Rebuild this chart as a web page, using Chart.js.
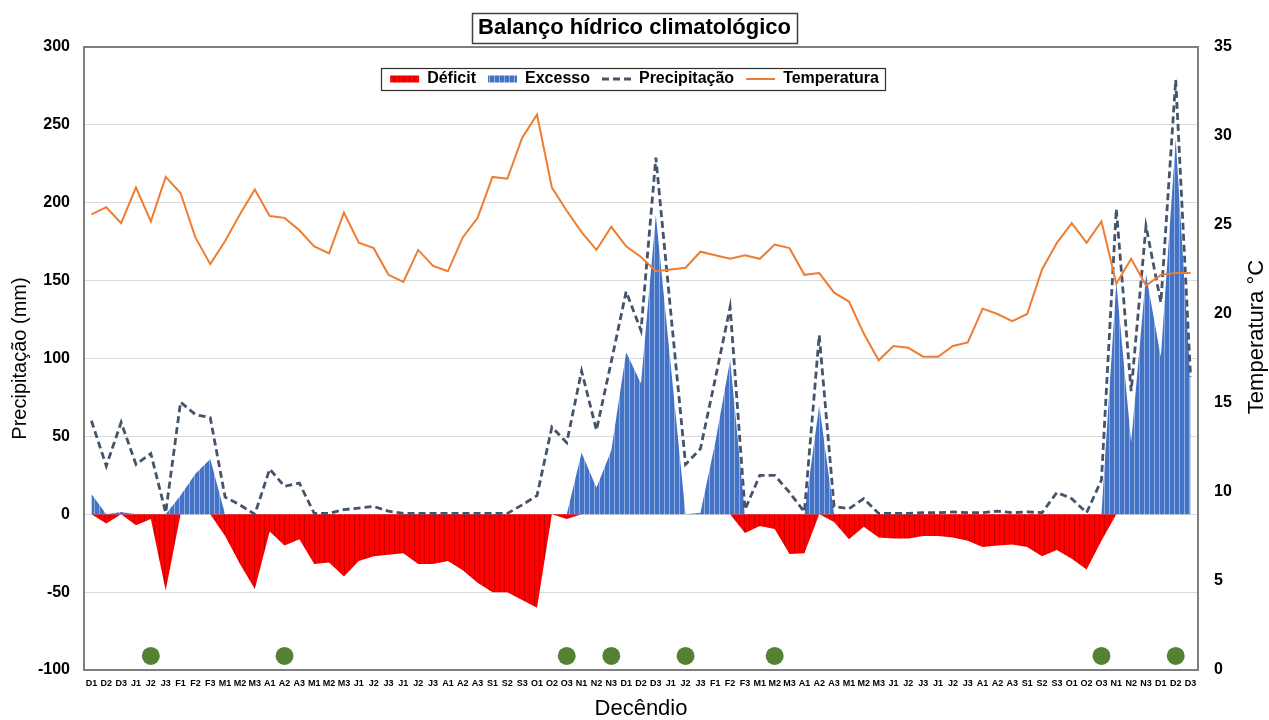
<!DOCTYPE html>
<html lang="pt-BR">
<head>
<meta charset="utf-8">
<title>Balanço hídrico climatológico</title>
<script src="https://cdn.jsdelivr.net/npm/chart.js@4.4.1/dist/chart.umd.min.js"></script>
<style>
  html, body { margin: 0; padding: 0; background: #fff; }
  #wrap { width: 1269px; height: 720px; }
</style>
</head>
<body>
<div id="wrap"><canvas id="chart"></canvas></div>
<script>
// --- dados ---
const decendios = [
  'D1','D2','D3',
  'J1','J2','J3','F1','F2','F3','M1','M2','M3','A1','A2','A3','M1','M2','M3',
  'J1','J2','J3','J1','J2','J3','A1','A2','A3','S1','S2','S3','O1','O2','O3','N1','N2','N3',
  'D1','D2','D3',
  'J1','J2','J3','F1','F2','F3','M1','M2','M3','A1','A2','A3','M1','M2','M3',
  'J1','J2','J3','J1','J2','J3','A1','A2','A3','S1','S2','S3','O1','O2','O3','N1','N2','N3',
  'D1','D2','D3'
];

const deficit = [
  0, -6, 0, -7, -3, -49, 0, 0, 0, -14,
  -32, -48, -11, -20, -16, -32, -31, -40, -30, -27,
  -26, -25, -32, -32, -30, -36, -44, -50, -50, -55,
  -60, 0, -3, 0, 0, 0, 0, 0, 0, 0,
  0, 0, 0, 0, -12, -7.5, -9.5, -25.5, -25, 0,
  -5, -16, -8, -15, -15.5, -15.5, -14, -14, -15, -17,
  -21, -20, -19.5, -21, -27, -23, -28.5, -35.5, -17, 0,
  0, 0, 0, 0, 0
];

const excesso = [
  13, 0, 1.5, 0, 0, 0, 12, 26, 35.5, 0,
  0, 0, 0, 0, 0, 0, 0, 0, 0, 0,
  0, 0, 0, 0, 0, 0, 0, 0, 0, 0,
  0, 0, 0, 39.5, 17, 41, 104, 84, 192, 96,
  0, 1, 46, 99, 0, 0, 0, 0, 0, 70,
  0, 0, 0, 0, 0, 0, 0, 0, 0, 0,
  0, 0, 0, 0, 0, 0, 0, 0, 0, 149,
  46, 154, 101, 241, 85
];

const precipitacao = [
  60, 31, 59, 32, 39, 1, 72, 64, 62, 11,
  6, 0, 29, 18, 20, 0.5, 0.5, 3, 4, 5,
  2, 0.5, 0.5, 0.5, 0.5, 0.5, 0.5, 0.5, 0.5, 6,
  12, 56, 46, 92, 54, 98, 143, 118, 229, 130,
  32, 42, 87, 133, 3, 25, 25, 14, 1.5, 115,
  5, 3.5, 10, 0.5, 0.5, 0.5, 1, 1, 1.5, 1,
  1, 2, 1, 1.5, 1, 14, 10, 1, 22, 196,
  79, 185, 136, 279, 88
];

const temperatura = [
  25.6, 26.0, 25.1, 27.1, 25.2, 27.7, 26.8, 24.3, 22.8, 24.1,
  25.6, 27.0, 25.5, 25.4, 24.7, 23.8, 23.4, 25.7, 24.0, 23.7,
  22.2, 21.8, 23.6, 22.7, 22.4, 24.3, 25.4, 27.7, 27.6, 29.9,
  31.2, 27.1, 25.8, 24.6, 23.6, 24.9, 23.8, 23.2, 22.4, 22.5,
  22.6, 23.5, 23.3, 23.1, 23.3, 23.1, 23.9, 23.7, 22.2, 22.3,
  21.2, 20.7, 18.9, 17.4, 18.2, 18.1, 17.6, 17.6, 18.2, 18.4,
  20.3, 20.0, 19.6, 20.0, 22.5, 24.0, 25.1, 24.0, 25.2, 21.7,
  23.1, 21.6, 22.2, 22.3, 22.3
];

// decêndios marcados com o círculo verde, e a altura em que aparecem
const marcas = [4, 13, 32, 35, 40, 46, 68, 73];
const nivelMarcas = -91;

// --- estilo ---
const FONT = "'Liberation Sans', Arial, Helvetica, sans-serif";
const NARROW = "'Liberation Sans Narrow', 'Liberation Sans', Arial, sans-serif";
const TITLE_SIZE = 22;
const TITLE_PAD_TOP = 15;
const TITULO_TEMP = 'Temperatura °C';

const stripes = (base, line) => {
  const c = document.createElement('canvas');
  c.width = 5; c.height = 4;
  const g = c.getContext('2d');
  g.fillStyle = base; g.fillRect(0, 0, 5, 4);
  g.fillStyle = line; g.fillRect(4, 0, 1, 4);
  return g.createPattern(c, 'repeat');
};

const marcaData = decendios.map((_, i) => marcas.includes(i) ? nivelMarcas : null);

// legenda flutuando dentro da área do gráfico, molduras e título do eixo direito
const molduras = {
  id: 'molduras',
  beforeUpdate(chart) {
    const lg = chart.legend;
    if (lg && !lg._flutua) {
      const fit = lg.fit;
      lg.fit = function () { fit.call(this); this._altura = this.height; this.height = 0; };
      lg._flutua = true;
    }
  },
  afterLayout(chart) {
    const lg = chart.legend;
    if (!lg) return;
    const pad = lg.options.labels.padding;
    lg.height = lg._altura;
    lg.top = 79 - pad - 8;
    lg.bottom = lg.top + lg.height;
  },
  afterDraw(chart) {
    const ctx = chart.ctx;
    const area = chart.chartArea;
    ctx.save();
    // título do gráfico
    const tb = chart.titleBlock;
    ctx.font = `bold ${TITLE_SIZE}px ${FONT}`;
    const w = ctx.measureText(chart.options.plugins.title.text).width;
    const cx = (tb.left + tb.right) / 2;
    const cy = tb.top + TITLE_PAD_TOP + TITLE_SIZE * 1.2 / 2;
    ctx.strokeStyle = '#404040';
    ctx.lineWidth = 1.5;
    ctx.strokeRect(Math.round(cx - w / 2 - 6) + 0.5, Math.round(cy - 15) + 0.5, Math.round(w + 12), 30);
    // legenda
    const hb = chart.legend.legendHitBoxes || [];
    if (hb.length) {
      let l = Infinity, r = -Infinity, t = Infinity, b = -Infinity;
      hb.forEach(h => {
        l = Math.min(l, h.left); r = Math.max(r, h.left + h.width);
        t = Math.min(t, h.top); b = Math.max(b, h.top + h.height);
      });
      ctx.lineWidth = 1.2;
      ctx.strokeStyle = '#303030';
      ctx.strokeRect(Math.round(l - 9) + 0.5, Math.round(t - 3) + 0.5, Math.round(r - l + 15), Math.round(b - t + 6));
    }
    // título do eixo da temperatura, lido de baixo para cima
    ctx.translate(area.right + 59, 337);
    ctx.rotate(-Math.PI / 2);
    ctx.font = `22px ${FONT}`;
    ctx.fillStyle = '#000';
    ctx.textAlign = 'center';
    ctx.textBaseline = 'middle';
    ctx.fillText(TITULO_TEMP, 0, 0);
    ctx.restore();
  }
};

Chart.defaults.color = '#000';
Chart.defaults.font.family = FONT;

new Chart(document.getElementById('chart'), {
  type: 'line',
  data: {
    labels: decendios,
    datasets: [
      {
        label: 'Déficit',
        data: deficit,
        yAxisID: 'y',
        backgroundColor: stripes('#ff0000', '#c40000'),
        borderWidth: 0,
        fill: 'origin',
        pointRadius: 0,
        pointStyle: 'rect',
        order: 4
      },
      {
        label: 'Excesso',
        data: excesso,
        yAxisID: 'y',
        backgroundColor: stripes('#4472c4', '#8eaee3'),
        borderWidth: 0,
        fill: 'origin',
        pointRadius: 0,
        pointStyle: 'rect',
        order: 3
      },
      {
        label: 'Precipitação',
        data: precipitacao,
        yAxisID: 'y',
        borderColor: '#44546a',
        backgroundColor: '#44546a',
        borderWidth: 2.8,
        borderDash: [7, 4],
        fill: false,
        pointRadius: 0,
        pointStyle: 'line',
        order: 2
      },
      {
        label: 'Temperatura',
        data: temperatura,
        yAxisID: 'y1',
        borderColor: '#ed7d31',
        backgroundColor: '#ed7d31',
        borderWidth: 2,
        fill: false,
        pointRadius: 0,
        pointStyle: 'line',
        order: 1
      },
      {
        label: '',
        data: marcaData,
        yAxisID: 'y',
        showLine: false,
        pointRadius: 9,
        pointHoverRadius: 9,
        pointStyle: 'circle',
        pointBackgroundColor: '#548235',
        pointBorderWidth: 0,
        order: 0
      }
    ]
  },
  options: {
    responsive: true,
    maintainAspectRatio: false,
    animation: false,
    layout: { padding: 0 },
    elements: { line: { tension: 0 } },
    plugins: {
      title: {
        display: true,
        text: 'Balanço hídrico climatológico',
        color: '#000',
        font: { family: FONT, size: TITLE_SIZE, weight: 'bold' },
        padding: { top: TITLE_PAD_TOP, bottom: 5.6 }
      },
      legend: {
        position: 'top',
        labels: {
          usePointStyle: true,
          pointStyleWidth: 29,
          boxHeight: 7,
          padding: 12,
          color: '#000',
          font: { family: FONT, size: 16, weight: 'bold' },
          sort: (a, b) => a.datasetIndex - b.datasetIndex,
          filter: item => item.text !== '',
          generateLabels: chart => chart.data.datasets.map((ds, i) => ({
            text: ds.label,
            datasetIndex: i,
            fillStyle: ds.backgroundColor,
            strokeStyle: ds.borderColor,
            lineWidth: ds.pointStyle === 'line' ? ds.borderWidth : 0,
            lineDash: ds.borderDash || [],
            pointStyle: ds.pointStyle,
            fontColor: '#000',
            hidden: false
          }))
        }
      },
      tooltip: { enabled: false }
    },
    scales: {
      x: {
        type: 'category',
        offset: true,
        grid: { display: false, drawTicks: false },
        border: { display: true, color: '#7f7f7f', width: 2 },
        ticks: {
          autoSkip: false,
          maxRotation: 0,
          minRotation: 0,
          padding: 8,
          color: '#000',
          font: { family: NARROW, size: 9, weight: 'bold' }
        },
        title: {
          display: true,
          text: 'Decêndio',
          color: '#000',
          font: { family: FONT, size: 22, lineHeight: 1 },
          padding: 0
        },
        afterFit: s => { s.height = 50; }
      },
      y: {
        position: 'left',
        min: -100,
        max: 300,
        grid: {
          drawTicks: false,
          color: c => (c.tick && c.tick.value === 300) ? '#7f7f7f' : '#d9d9d9',
          lineWidth: c => (c.tick && c.tick.value === 300) ? 2 : 1
        },
        border: { display: true, color: '#7f7f7f', width: 2 },
        ticks: {
          stepSize: 50,
          padding: 14,
          color: '#000',
          font: { family: NARROW, size: 16, weight: 'bold' }
        },
        title: {
          display: true,
          text: 'Precipitação (mm)',
          color: '#000',
          font: { family: FONT, size: 20 },
          padding: { top: 8 }
        },
        afterFit: s => { s.width = 84; }
      },
      y1: {
        position: 'right',
        min: 0,
        max: 35,
        grid: { display: false, drawTicks: false },
        border: { display: true, color: '#7f7f7f', width: 2 },
        ticks: {
          stepSize: 5,
          padding: 16,
          color: '#000',
          font: { family: NARROW, size: 16, weight: 'bold' }
        },
        title: { display: false },
        afterFit: s => { s.width = 71; }
      }
    }
  },
  plugins: [molduras]
});
</script>
</body>
</html>
